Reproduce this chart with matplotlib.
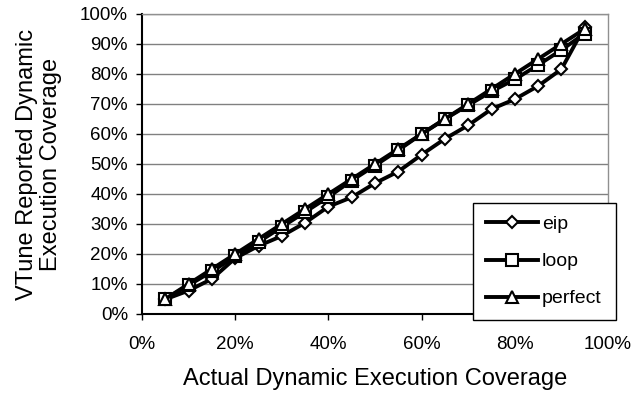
import matplotlib
matplotlib.use('Agg')
import matplotlib.pyplot as plt
from matplotlib.ticker import PercentFormatter

plt.rcParams['font.family'] = ['Liberation Sans', 'DejaVu Sans']

actual = [5, 10, 15, 20, 25, 30, 35, 40, 45, 50, 55, 60, 65, 70, 75, 80, 85, 90, 95]
eip = [4.9, 7.8, 11.7, 18.6, 22.7, 26.0, 30.4, 35.8, 38.9, 43.6, 47.5, 53.1, 58.4,
       62.9, 68.3, 71.6, 76.0, 81.6, 95.8]
loop = [5.0, 9.6, 14.2, 19.2, 24.0, 29.0, 34.0, 39.0, 44.5, 49.5, 54.6, 60.0, 65.0,
        69.6, 74.2, 78.2, 83.0, 88.0, 93.5]
perfect = [5, 10, 15, 20, 25, 30, 35, 40, 45, 50, 55, 60, 65, 70, 75, 80, 85, 90, 95]

fig = plt.figure(figsize=(6.34, 3.97), dpi=100)
ax = fig.add_axes([142 / 634, 83 / 397, 466 / 634, 300 / 397])

style = dict(color='black', linewidth=2.8, markerfacecolor='white',
             markeredgecolor='black', markeredgewidth=1.5)
ax.plot(actual, eip, marker='D', markersize=6.5, label='eip', **style)
ax.plot(actual, loop, marker='s', markersize=8, label='loop', **style)
ax.plot(actual, perfect, marker='^', markersize=8.5, label='perfect', **style)

ax.set_xlim(0, 100)
ax.set_ylim(0, 100)
ax.set_xticks(range(0, 101, 20))
ax.set_yticks(range(0, 101, 10))
ax.xaxis.set_major_formatter(PercentFormatter(decimals=0))
ax.yaxis.set_major_formatter(PercentFormatter(decimals=0))
ax.tick_params(direction='out', length=4, width=1, labelsize=13.5, colors='black')
ax.tick_params(axis='x', pad=12)
ax.tick_params(axis='y', pad=6)
ax.grid(axis='y', color='#808080', linewidth=1)
ax.set_axisbelow(True)

for side in ['top', 'right']:
    ax.spines[side].set_color('#909090')
    ax.spines[side].set_linewidth(1)
for side in ['left', 'bottom']:
    ax.spines[side].set_color('black')
    ax.spines[side].set_linewidth(1.5)

ax.set_xlabel('Actual Dynamic Execution Coverage', fontsize=17, labelpad=11)
ax.set_ylabel('VTune Reported Dynamic\nExecution Coverage', fontsize=17,
              labelpad=13, linespacing=1.15)

leg = ax.legend(loc='upper left', bbox_to_anchor=(473 / 634, (397 - 317) / 397,
                                                     143 / 634, 114 / 397),
                bbox_transform=fig.transFigure, mode='expand', fontsize=14,
                frameon=True, fancybox=False, edgecolor='black', framealpha=1,
                handlelength=2.7, handletextpad=0.2, labelspacing=1.0,
                borderpad=0.65, borderaxespad=0)
leg.get_frame().set_linewidth(1)

fig.savefig('out.png', dpi=100)
